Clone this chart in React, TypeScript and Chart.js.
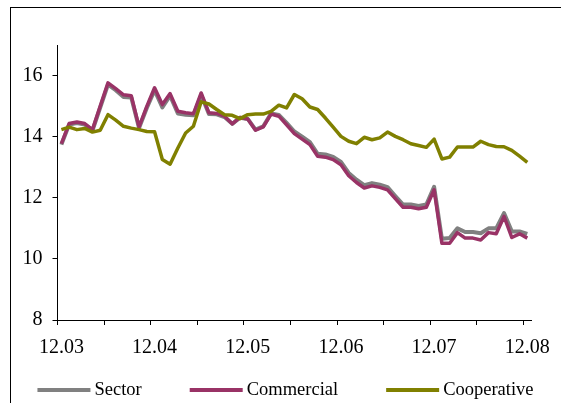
import React, { useEffect, useRef } from "react";
import { Chart, registerables } from "chart.js";

Chart.register(...registerables);

const categories = [
  "12.03",
  "01.04", "02.04", "03.04", "04.04", "05.04", "06.04", "07.04", "08.04", "09.04", "10.04", "11.04", "12.04",
  "01.05", "02.05", "03.05", "04.05", "05.05", "06.05", "07.05", "08.05", "09.05", "10.05", "11.05", "12.05",
  "01.06", "02.06", "03.06", "04.06", "05.06", "06.06", "07.06", "08.06", "09.06", "10.06", "11.06", "12.06",
  "01.07", "02.07", "03.07", "04.07", "05.07", "06.07", "07.07", "08.07", "09.07", "10.07", "11.07", "12.07",
  "01.08", "02.08", "03.08", "04.08", "05.08", "06.08", "07.08", "08.08", "09.08", "10.08", "11.08", "12.08",
];

const sector = [
  13.74, 14.40, 14.45, 14.40, 14.20, 14.95, 15.70, 15.52, 15.30, 15.28, 14.28, 14.94, 15.52,
  14.96, 15.34, 14.76, 14.72, 14.70, 15.36, 14.74, 14.73, 14.64, 14.42, 14.62, 14.58,
  14.23, 14.34, 14.76, 14.71, 14.45, 14.17, 14.00, 13.82, 13.44, 13.42, 13.34, 13.17,
  12.81, 12.59, 12.41, 12.48, 12.43, 12.35, 12.06, 11.78, 11.78, 11.73, 11.78, 12.36,
  10.66, 10.68, 11.00, 10.88, 10.88, 10.84, 11.00, 11.00, 11.50, 10.90, 10.90, 10.82,
];

const commercial = [
  13.77, 14.43, 14.48, 14.43, 14.23, 15.00, 15.76, 15.57, 15.37, 15.34, 14.32, 14.99, 15.60,
  15.05, 15.41, 14.83, 14.78, 14.75, 15.43, 14.78, 14.76, 14.67, 14.42, 14.63, 14.58,
  14.21, 14.32, 14.74, 14.67, 14.39, 14.10, 13.92, 13.74, 13.36, 13.33, 13.25, 13.08,
  12.72, 12.50, 12.32, 12.39, 12.34, 12.26, 11.97, 11.69, 11.69, 11.64, 11.69, 12.26,
  10.51, 10.51, 10.86, 10.68, 10.68, 10.62, 10.86, 10.82, 11.39, 10.70, 10.82, 10.68,
];

const cooperative = [
  14.23, 14.31, 14.23, 14.27, 14.15, 14.21, 14.72, 14.54, 14.34, 14.28, 14.23, 14.17, 14.16,
  13.25, 13.10, 13.63, 14.12, 14.34, 15.14, 15.07, 14.89, 14.72, 14.70, 14.59, 14.72,
  14.74, 14.74, 14.83, 15.03, 14.94, 15.38, 15.24, 14.97, 14.89, 14.61, 14.31, 14.01,
  13.85, 13.77, 13.98, 13.90, 13.96, 14.15, 14.01, 13.90, 13.77, 13.71, 13.65, 13.92,
  13.27, 13.33, 13.66, 13.66, 13.66, 13.85, 13.74, 13.68, 13.67, 13.55, 13.36, 13.16,
];

const seriesNames = ["Sector", "Commercial", "Cooperative"];
const seriesColors = ["#808080", "#993366", "#808000"];

const FONT = '"Liberation Serif", "Times New Roman", Times, serif';

const framePlugin = {
  id: "frame",
  beforeDraw(chart: any) {
    const ctx = chart.ctx;
    ctx.save();
    ctx.fillStyle = "#ffffff";
    ctx.fillRect(0, 0, chart.width, chart.height);
    ctx.strokeStyle = "#000000";
    ctx.lineWidth = 1;
    ctx.strokeRect(10.5, 7.5, 700, 600);
    ctx.restore();
  },
};

const legendPlugin = {
  id: "bottomLegend",
  afterDraw(chart: any) {
    const ctx = chart.ctx;
    const ds = chart.data.datasets;
    ctx.save();
    ctx.font = `18.5px ${FONT}`;
    const lineLen = 53;
    const gapText = 4;
    const gapItem = 48;
    const widths = ds.map((d: any) => lineLen + gapText + ctx.measureText(d.label).width);
    const total = widths.reduce((a: number, b: number) => a + b, 0) + gapItem * (ds.length - 1);
    let x = 285.5 - total / 2;
    const yLine = 390;
    const yText = 395;
    ds.forEach((d: any, i: number) => {
      ctx.strokeStyle = d.borderColor;
      ctx.lineWidth = 4;
      ctx.lineCap = "butt";
      ctx.beginPath();
      ctx.moveTo(x, yLine);
      ctx.lineTo(x + lineLen, yLine);
      ctx.stroke();
      ctx.fillStyle = "#000000";
      ctx.textBaseline = "alphabetic";
      ctx.textAlign = "left";
      ctx.fillText(d.label, x + lineLen + gapText, yText);
      x += widths[i] + gapItem;
    });
    ctx.restore();
  },
};

export default function App() {
  const canvasRef = useRef<HTMLCanvasElement | null>(null);

  useEffect(() => {
    let chart: Chart | null = null;
    let cancelled = false;
    const build = () => {
      if (cancelled || !canvasRef.current) return;
      const seriesData = [sector, commercial, cooperative];
      chart = new Chart(canvasRef.current, {
        type: "line",
        data: {
          labels: categories,
          datasets: seriesNames.map((name, i) => ({
            label: name,
            data: seriesData[i],
            borderColor: seriesColors[i],
            backgroundColor: seriesColors[i],
            borderWidth: i === 0 ? 4 : 3.5,
            borderJoinStyle: "round" as const,
            pointRadius: 0,
            tension: 0,
            fill: false,
            order: 3 - i,
          })),
        },
        options: {
          responsive: false,
          animation: false,
          layout: { padding: { left: 0, right: 24, top: 45, bottom: 0 } },
          plugins: {
            legend: { display: false },
            tooltip: { enabled: false },
          },
          scales: {
            x: {
              type: "category",
              offset: true,
              grid: {
                offset: true,
                drawOnChartArea: false,
                drawTicks: true,
                tickLength: 5,
                lineWidth: 1,
                color: (ctx: any) => (ctx.index % 6 === 0 ? "#000000" : "rgba(0,0,0,0)"),
              },
              border: { display: true, color: "#000000", width: 1 },
              ticks: {
                autoSkip: false,
                maxRotation: 0,
                minRotation: 0,
                padding: 11,
                color: "#000000",
                font: { family: FONT, size: 20 },
                callback: (_v: any, idx: number) =>
                  categories[idx].startsWith("12.") ? categories[idx] : "",
              },
              afterFit: (s: any) => {
                s.height = 83;
              },
            },
            y: {
              min: 8,
              max: 17,
              grid: {
                drawOnChartArea: false,
                drawTicks: true,
                tickLength: 5,
                color: "#000000",
              },
              border: { display: true, color: "#000000", width: 1 },
              ticks: {
                stepSize: 2,
                includeBounds: false,
                padding: 10,
                color: "#000000",
                font: { family: FONT, size: 20 },
              },
              afterFit: (s: any) => {
                s.width = 57.5;
              },
            },
          },
        },
        plugins: [framePlugin, legendPlugin],
      } as any);
    };
    const fontsApi = (document as any).fonts;
    if (fontsApi && fontsApi.load) {
      Promise.all([
        fontsApi.load('20px "Liberation Serif"'),
        fontsApi.load('18.5px "Liberation Serif"'),
      ])
        .catch(() => undefined)
        .then(build);
    } else {
      build();
    }
    return () => {
      cancelled = true;
      if (chart) chart.destroy();
    };
  }, []);

  return (
    <canvas
      ref={canvasRef}
      width={561}
      height={403}
      style={{ position: "fixed", left: 0, top: 0, display: "block" }}
    />
  );
}
